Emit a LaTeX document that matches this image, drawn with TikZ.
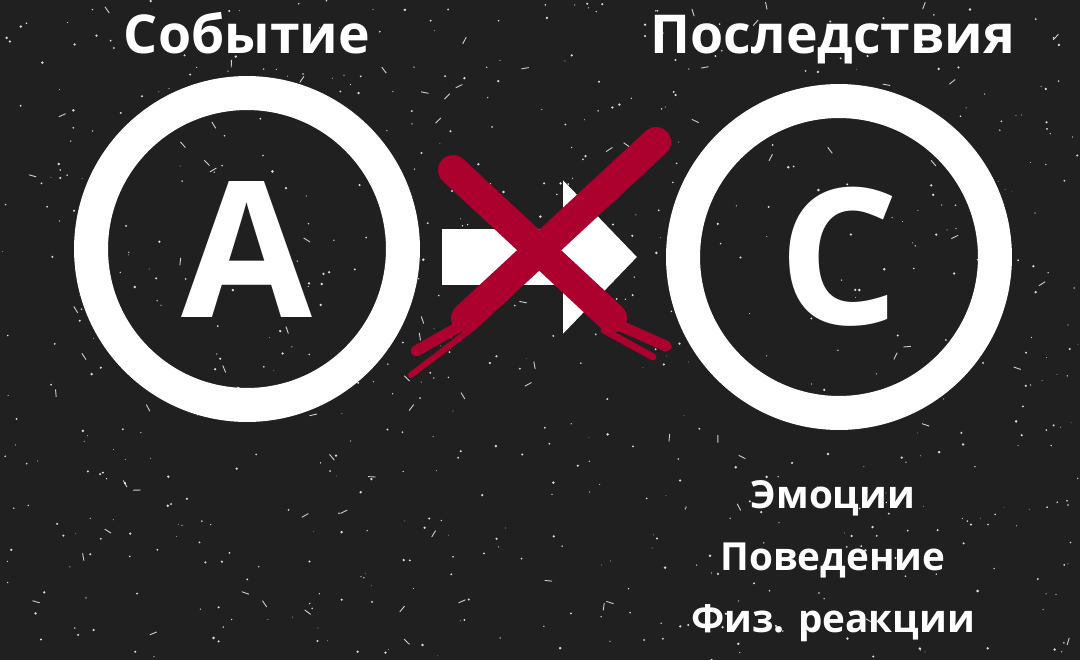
\documentclass[tikz,border=0pt]{standalone}
\usepackage{fontspec}
\setmainfont{Open Sans}
\usetikzlibrary{arrows.meta,calc}
\definecolor{bgdark}{HTML}{202020}
\definecolor{crossred}{HTML}{AC002E}

\begin{document}
\begin{tikzpicture}[x=0.02cm,y=-0.02cm,
  ring/.style={circle,draw=white,line width=0.68cm,minimum size=6.24cm,inner sep=0pt,
    text=white,font=\bfseries\fontsize{108}{108}\selectfont},
  title/.style={text=white,anchor=base,inner sep=0pt,font=\bfseries\fontsize{30.5}{30.5}\selectfont},
  item/.style={text=white,anchor=base,inner sep=0pt,font=\bfseries\fontsize{22}{22}\selectfont},
  bigarrow/.style={white,line width=1.12cm,-{Triangle[length=1.48cm,width=2.98cm]}},
  brush/.style={crossred,line join=round,line cap=round}
  ]
\fill[bgdark] (0,0) rectangle (1080,660);
\useasboundingbox (0,0) rectangle (1080,660);
% speckles
\pgfmathsetseed{42}
\foreach \i in {1,...,700}{
  \pgfmathsetmacro{\px}{rnd*1080}
  \pgfmathsetmacro{\py}{rnd*660}
  \pgfmathsetmacro{\pr}{0.2+0.6*rnd}
  \fill[white,opacity=0.85] (\px,\py) circle[radius=\pr pt];
}
\foreach \i in {1,...,90}{
  \pgfmathsetmacro{\px}{rnd*1080}
  \pgfmathsetmacro{\py}{rnd*660}
  \pgfmathsetmacro{\ang}{rnd*360}
  \draw[white,line width=0.5pt,opacity=0.8] (\px,\py) -- ++(\ang:0.15cm);
}
\node[ring] (A) at (247,249) {A};
\node[ring] (C) at (839,257) {C};
\node[title] (event) at (247,53) {Событие};
\node[title] (conseq) at (833,53) {Последствия};
\node[item] (emo) at (833,508) {Эмоции};
\node[item] (behav) at (833,570) {Поведение};
\node[item] (phys) at (833,632) {Физ. реакции};
\draw[bigarrow] ($(A.east |- C.center)+(22,0)$) -- ($(C.west)+(-29,0)$);
% the cross
\draw[brush,line width=0.6cm] (453,170) -- (612,318);
\draw[brush,line width=0.22cm] (598,316) -- (666,346);
\draw[brush,line width=0.14cm] (604,330) -- (653,357);
\draw[brush,line width=0.6cm] (656,142) -- (466,318);
\draw[brush,line width=0.22cm] (478,316) -- (416,351);
\draw[brush,line width=0.12cm] (470,330) -- (411,375);
\end{tikzpicture}
\end{document}
